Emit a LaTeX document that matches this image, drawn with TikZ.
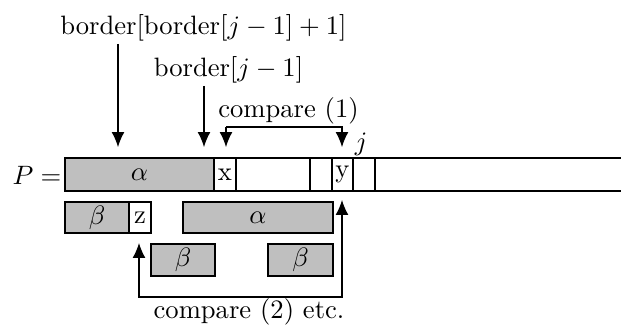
\documentclass[tikz,border=0pt]{standalone}
\usepackage{amsmath}
\usetikzlibrary{arrows.meta, positioning, calc}

\tikzset{
  filled/.style={draw, fill=gray!50},
  lbl/.style={inner sep=0pt},
  ptr/.style={-{Latex[length=5.6pt,width=4.8pt]}},
  dptr/.style={{Latex[length=5.6pt,width=4.8pt]}-{Latex[length=5.6pt,width=4.8pt]}}
}

\begin{document}
\begin{tikzpicture}[x=0.376pt, y=-0.376pt]
  \useasboundingbox (0,0) rectangle (621,325);
  % Muster P
  \fill[gray!50] (65,158) rectangle (214,191);
  \draw (621,158) -- (65,158) -- (65,191) -- (621,191);
  \foreach \x in {214,236,310,332,353,375}
    \draw (\x,158) -- (\x,191);
  \node[lbl] (P) at (37,175) {$P =$};
  \node[lbl] (a1) at (139.5,174.5) {$\alpha$};
  \node[lbl] (cx) at (225,174.5) {x};
  \node[lbl] (cy) at (342.5,174.5) {y};
  \node[lbl, anchor=base] (j) at (361,150) {$j$};
  % verschobene Kopien
  \draw[filled] (65,202) rectangle (129,233);
  \draw (129,202) rectangle (151,233);
  \draw[filled] (183,202) rectangle (333,233);
  \draw[filled] (151,244) rectangle (215,276);
  \draw[filled] (268,244) rectangle (333,276);
  \node[lbl] (b1) at (97,217.5) {$\beta$};
  \node[lbl] (cz) at (140,217.5) {z};
  \node[lbl] (a2) at (258,217.5) {$\alpha$};
  \node[lbl] (b2) at (183,260) {$\beta$};
  \node[lbl] (b3) at (300.5,260) {$\beta$};
  % Beschriftungen
  \node[lbl, anchor=base] (bb) at (203.5,34) {$\mathrm{border}[\mathrm{border}[j-1]+1]$};
  \node[lbl, anchor=base] (bj) at (228.5,76) {$\mathrm{border}[j-1]$};
  \node[anchor=base] (cmp1) at (288.5,117) {compare (1)};
  \node[anchor=base] (cmp2) at (249,318) {compare (2) etc.};
  % Pfeile
  \coordinate (t1) at (118,147);
  \coordinate (t2) at (204,147);
  \coordinate (t3) at (226,147);
  \coordinate (t4) at (342,147);
  \coordinate (u1) at (139,243);
  \coordinate (u2) at (342,200);
  \coordinate (k1) at (226,127);
  \coordinate (k2) at (139,297);
  \draw[ptr] ([yshift=-1pt]bb.south -| t1) -- (t1);
  \draw[ptr] ([yshift=-1pt]bj.south -| t2) -- (t2);
  \draw[ptr] (k1) -- (t3);
  \draw[ptr] (k1) -| (t4);
  \draw[dptr] (u1) -- (k2) -| (u2);
\end{tikzpicture}
\end{document}
